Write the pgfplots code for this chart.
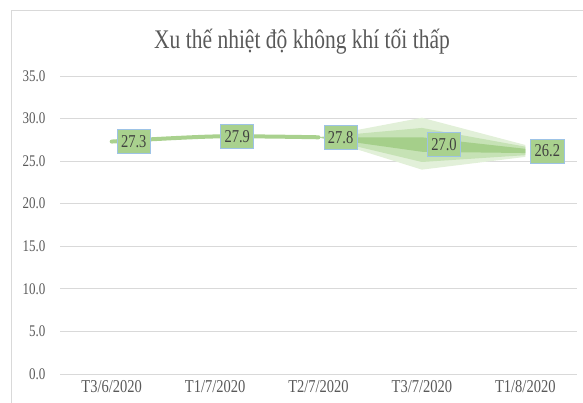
\documentclass[border=0pt]{standalone}
\usepackage{fontspec}
\setmainfont{Liberation Serif}
\usepackage{graphicx}
\usepackage{pgfplots}
\pgfplotsset{compat=1.18}
\definecolor{linegreen}{RGB}{169,209,142}
\definecolor{bandA}{RGB}{226,240,217}
\definecolor{bandB}{RGB}{198,226,181}
\definecolor{bandC}{RGB}{165,207,138}
\definecolor{boxblue}{RGB}{157,195,230}
\definecolor{txtgray}{RGB}{89,89,89}
\definecolor{gridgray}{RGB}{217,217,217}
\newcommand{\st}[1]{\scalebox{1}[1.25]{#1}}
\begin{document}
\begin{tikzpicture}[x=1pt,y=1pt]
\useasboundingbox (0,0) rectangle (583,403);
\draw[gridgray, line width=1pt] (11,0) -- (11,392) -- (583,392);
\node[txtgray, font=\fontsize{21.5}{24}\selectfont] at (302,361) {\st{Xu thế nhiệt độ không khí tối thấp}};
\begin{axis}[
  at={(60pt,29pt)}, anchor=south west,
  width=517pt, height=298pt, scale only axis,
  xmin=-0.5, xmax=4.5, ymin=0, ymax=35,
  axis line style={draw=none},
  major tick length=0pt,
  xtick={0,1,2,3,4},
  xticklabels={\st{T3/6/2020},\st{T1/7/2020},\st{T2/7/2020},\st{T3/7/2020},\st{T1/8/2020}},
  ytick={0,5,10,15,20,25,30,35},
  ymajorgrids,
  grid style={gridgray, line width=0.8pt},
  /pgf/number format/assume math mode=true,
  yticklabel={\st{\pgfmathprintnumber[fixed,fixed zerofill,precision=1]{\tick}}},
  yticklabel style={font=\fontsize{13}{15}\selectfont, text=txtgray, xshift=-11pt},
  xticklabel style={font=\fontsize{14.5}{16}\selectfont, text=txtgray, yshift=-3pt},
  clip=false,
]
% uncertainty fan
\addplot[fill=bandA, draw=none] coordinates {(2,27.8) (3,30.1) (4,26.9) (4,25.5) (3,24.0) (2,27.8)} -- cycle;
\addplot[fill=bandB, draw=none] coordinates {(2,27.8) (3,28.9) (4,26.7) (4,25.7) (3,24.9) (2,27.8)} -- cycle;
\addplot[fill=bandC, draw=none] coordinates {(2,27.8) (3,27.8) (4,26.45) (4,25.95) (3,26.1) (2,27.8)} -- cycle;
% main line
\addplot[linegreen, line width=4pt, smooth, line cap=round,
  nodes near coords={\st{\pgfplotspointmeta}},
  point meta=explicit symbolic,
  nodes near coords style={anchor=west, xshift=5pt, fill=linegreen, draw=boxblue, line width=0.8pt,
    text=black!75, font=\fontsize{14.5}{16}\selectfont, minimum height=24pt, inner xsep=4pt, inner ysep=2pt}]
  coordinates {(0,27.3)[27.3] (1,27.9)[27.9] (2,27.8)[27.8]};
\addplot[draw=none,
  nodes near coords={\st{\pgfplotspointmeta}},
  point meta=explicit symbolic,
  nodes near coords style={anchor=west, xshift=5pt, fill=linegreen, draw=boxblue, line width=0.8pt,
    text=black!75, font=\fontsize{14.5}{16}\selectfont, minimum height=24pt, inner xsep=4pt, inner ysep=2pt}]
  coordinates {(3,27.0)[27.0] (4,26.2)[26.2]};
\end{axis}
\end{tikzpicture}
\end{document}
